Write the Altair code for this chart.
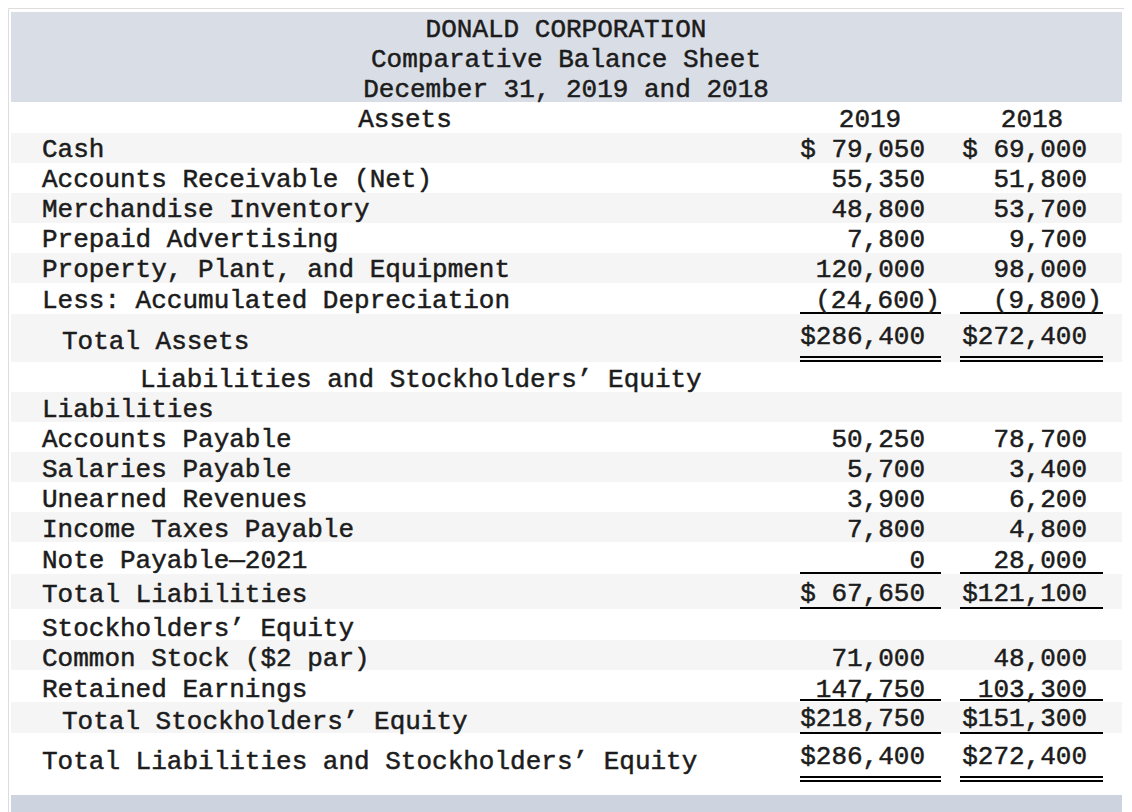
import altair as alt
import pandas as pd

# ---------------- data ----------------
title_lines = ["DONALD CORPORATION", "Comparative Balance Sheet", "December 31, 2019 and 2018"]
section_assets = "Assets"
years = ["2019", "2018"]

labels = [
    "Cash", "Accounts Receivable (Net)", "Merchandise Inventory", "Prepaid Advertising",
    "Property, Plant, and Equipment", "Less: Accumulated Depreciation", "Total Assets",
    "Liabilities and Stockholders\u2019 Equity", "Liabilities", "Accounts Payable",
    "Salaries Payable", "Unearned Revenues", "Income Taxes Payable", "Note Payable\u20142021",
    "Total Liabilities", "Stockholders\u2019 Equity", "Common Stock ($2 par)",
    "Retained Earnings", "Total Stockholders\u2019 Equity",
    "Total Liabilities and Stockholders\u2019 Equity",
]
values_2019 = [79050, 55350, 48800, 7800, 120000, -24600, 286400, None, None, 50250,
               5700, 3900, 7800, 0, 67650, None, 71000, 147750, 218750, 286400]
values_2018 = [69000, 51800, 53700, 9700, 98000, -9800, 272400, None, None, 78700,
               3400, 6200, 4800, 28000, 121100, None, 48000, 103300, 151300, 272400]
dollar_rows = [0, 6, 14, 18, 19]

# ---------------- layout (pixel positions of the table) ----------------
label_y = [148, 178, 208, 238, 268, 299, 340, 378, 408, 438, 468, 498, 528, 559,
           593, 627, 657, 688, 720, 760]
num_y = [148, 178, 208, 238, 268, 299, 335, 378, 408, 438, 468, 498, 528, 559,
         592, 627, 657, 688, 717, 755]
label_x = [42, 42, 42, 42, 42, 42, 62, 140, 42, 42, 42, 42, 42, 42,
           42, 42, 42, 42, 62, 42]
stripes = [(133, 163), (193, 223), (253, 283), (314, 362), (392, 422), (452, 482),
           (512, 542), (574, 609), (640, 670), (702, 733)]
underlines = [313, 357, 361, 573, 608, 700, 733, 777, 781]
col_right = [925, 1087]
col_rule = [(800, 941), (960, 1103)]
col_center = [870, 1032]
PAREN = 15
FONT = "Liberation Mono"
FS = 26
INK = "#1c1c1c"
DY = 1
W, H = 1116, 804


def fmt(v, dollar):
    if v is None:
        return None
    s = f"{abs(v):,}"
    if v < 0:
        return f"({s})"
    if dollar:
        return "$" + s.rjust(7)
    return s


X = lambda f="x": alt.X(f"{f}:Q", scale=alt.Scale(domain=[8, 8 + W], nice=False, zero=False), axis=None)
Y = lambda f="y": alt.Y(f"{f}:Q", scale=alt.Scale(domain=[8, 8 + H], nice=False, zero=False, reverse=True), axis=None)

# background bands
bands = pd.DataFrame([
    {"x": 11, "x2": 1122, "y": 12, "y2": 102, "c": "#d9dee6"},
    {"x": 11, "x2": 1122, "y": 795, "y2": 8 + H, "c": "#cdd4df"},
] + [{"x": 11, "x2": 1122, "y": a, "y2": b, "c": "#f5f5f5"} for a, b in stripes])
band_layer = alt.Chart(bands).mark_rect().encode(
    x=X(), x2="x2:Q", y=Y(), y2="y2:Q", color=alt.Color("c:N", scale=None)
)

text_style = dict(font=FONT, fontSize=FS, baseline="middle", color=INK,
                  stroke=INK, strokeWidth=0.5, dy=DY)

# titles
trows = [{"x": 566, "y": 28 + 30 * i, "t": t} for i, t in enumerate(title_lines)]
trows.append({"x": 405, "y": 118, "t": section_assets})
trows += [{"x": col_center[i], "y": 118, "t": years[i]} for i in range(2)]
title_layer = alt.Chart(pd.DataFrame(trows)).mark_text(align="center", **text_style).encode(
    x=X(), y=Y(), text="t:N")

# labels
lab = pd.DataFrame({"x": label_x, "y": label_y, "t": labels})
label_layer = alt.Chart(lab).mark_text(align="left", **text_style).encode(
    x=X(), y=Y(), text="t:N")

# numbers
nrows = []
for ci, vals in enumerate([values_2019, values_2018]):
    for r, v in enumerate(vals):
        s = fmt(v, r in dollar_rows)
        if s is None:
            continue
        nrows.append({"x": col_right[ci] + (PAREN if v < 0 else 0), "y": num_y[r], "t": s})
num_layer = alt.Chart(pd.DataFrame(nrows)).mark_text(align="right", **text_style).encode(
    x=X(), y=Y(), text="t:N")

# underlines
urows = [{"x": a, "x2": b, "y": u} for u in underlines for a, b in col_rule]
rule_layer = alt.Chart(pd.DataFrame(urows)).mark_rule(color="#000000", strokeWidth=2).encode(
    x=X(), x2="x2:Q", y=Y()
)

chart = alt.layer(band_layer, rule_layer, title_layer, label_layer, num_layer).properties(
    width=W, height=H, autosize=alt.AutoSizeParams(type="none"), padding=0
).configure_view(stroke=None).configure(background="#ffffff")

chart.save("out.html", embed_options={"renderer": "svg", "actions": False})
